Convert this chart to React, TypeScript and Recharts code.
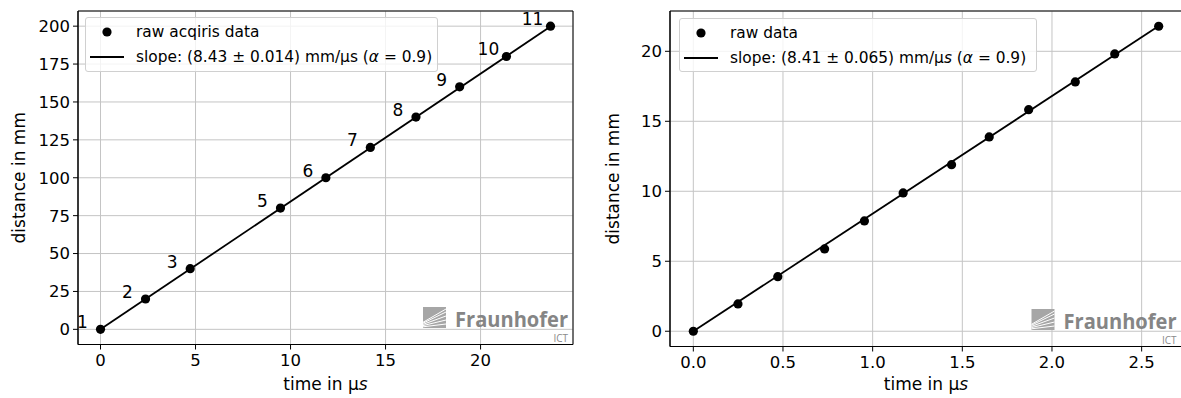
import React from 'react';
import {
  ScatterChart,
  Scatter,
  XAxis,
  YAxis,
  CartesianGrid,
  ReferenceArea,
  Legend,
} from 'recharts';

const FONT = '"DejaVu Sans", sans-serif';

// left panel: acqiris data, probes are numbered (no. 4 is missing)
const acqTime = [0, 2.37, 4.72, 9.47, 11.86, 14.2, 16.6, 18.9, 21.36, 23.68];
const acqDist = [0, 20, 40, 80, 100, 120, 140, 160, 180, 200];
const acqIds = ['1', '2', '3', '5', '6', '7', '8', '9', '10', '11'];
const acqFitTime = [0, 23.68];
const acqFitDist = [0, 199.7];
const acqXTicks = [0, 5, 10, 15, 20];
const acqYTicks = [0, 25, 50, 75, 100, 125, 150, 175, 200];

// right panel: raw data
const rawTime = [0, 0.249, 0.471, 0.732, 0.954, 1.17, 1.44, 1.65, 1.87, 2.13, 2.35, 2.595];
const rawDist = [0, 1.95, 3.9, 5.88, 7.88, 9.88, 11.9, 13.88, 15.83, 17.81, 19.81, 21.79];
const rawFitTime = [0, 2.595];
const rawFitDist = [0, 21.8];
const rawXTicks = [0, 0.5, 1, 1.5, 2, 2.5];
const rawYTicks = [0, 5, 10, 15, 20];

const acqPoints = acqTime.map((x, i) => ({ x, y: acqDist[i], id: acqIds[i] }));
const acqFit = acqFitTime.map((x, i) => ({ x, y: acqFitDist[i] }));
const rawPoints = rawTime.map((x, i) => ({ x, y: rawDist[i] }));
const rawFit = rawFitTime.map((x, i) => ({ x, y: rawFitDist[i] }));

const Dot = (p: any) => (
  <g>
    <circle cx={p.cx} cy={p.cy} r={4.6} fill="#000" />
    {p.payload && p.payload.id ? (
      <text
        x={p.cx - 18}
        y={p.cy - 7}
        textAnchor="middle"
        dominantBaseline="central"
        fontSize={17}
        fontFamily={FONT}
        fill="#000"
      >
        {p.payload.id}
      </text>
    ) : null}
  </g>
);

const NoDot = () => <g />;

function LegendBox({ label, slope, w, h, italicS }: any) {
  return (
    <div
      style={{
        width: w,
        height: h,
        boxSizing: 'border-box',
        border: '1px solid #d0d0d0',
        borderRadius: 3,
        background: 'rgba(255,255,255,0.8)',
      }}
    >
      <svg width={w - 2} height={h - 2} style={{ display: 'block' }}>
        <circle cx={21} cy={14} r={4.6} fill="#000" />
        <line x1={4} x2={38} y1={39} y2={39} stroke="#000" strokeWidth={1.8} />
        <text x={50} y={14} dominantBaseline="central" fontSize={15.4} fontFamily={FONT} fill="#000">
          {label}
        </text>
        <text x={50} y={39} dominantBaseline="central" fontSize={15.4} fontFamily={FONT} fill="#000">
          {`slope: (${slope}) mm/μ`}
          {italicS ? <tspan fontStyle="italic">s</tspan> : 's'}
          {' ('}
          <tspan fontStyle="italic">α</tspan>
          {' = 0.9)'}
        </text>
      </svg>
    </div>
  );
}

function Panel(props: any) {
  const {
    points, fit, xDomain, yDomain, xTicks, yTicks, xFmt, width, marginRight,
    yAxisWidth, xAxisHeight, yTitleX, legend,
  } = props;
  return (
    <ScatterChart
      width={width}
      height={398}
      margin={{ top: 11, right: marginRight, left: 0, bottom: 0 }}
    >
      <CartesianGrid stroke="#c4c4c4" strokeWidth={1} />
      <XAxis
        type="number"
        dataKey="x"
        domain={xDomain}
        allowDataOverflow
        ticks={xTicks}
        tickFormatter={xFmt}
        height={xAxisHeight}
        tickSize={5}
        tickMargin={5}
        axisLine={{ stroke: '#000' }}
        tickLine={{ stroke: '#000' }}
        tick={{ fill: '#000', fontSize: 16.5, fontFamily: FONT }}
        label={(lp: any) => {
          const vb = lp.viewBox;
          return (
            <text
              x={vb.x + vb.width / 2}
              y={vb.y + vb.height - 8}
              textAnchor="middle"
              fontSize={17}
              fontFamily={FONT}
              fill="#000"
            >
              time in μ<tspan fontStyle="italic">s</tspan>
            </text>
          );
        }}
      />
      <YAxis
        type="number"
        dataKey="y"
        domain={yDomain}
        allowDataOverflow
        ticks={yTicks}
        width={yAxisWidth}
        tickSize={5}
        tickMargin={3}
        axisLine={{ stroke: '#000' }}
        tickLine={{ stroke: '#000' }}
        tick={{ fill: '#000', fontSize: 16.5, fontFamily: FONT }}
        label={(lp: any) => {
          const vb = lp.viewBox;
          const cy = vb.y + vb.height / 2;
          return (
            <text
              x={yTitleX}
              y={cy}
              transform={`rotate(-90, ${yTitleX}, ${cy})`}
              textAnchor="middle"
              fontSize={17}
              fontFamily={FONT}
              fill="#000"
            >
              distance in mm
            </text>
          );
        }}
      />
      <ReferenceArea
        x1={xDomain[0]}
        x2={xDomain[1]}
        y1={yDomain[0]}
        y2={yDomain[1]}
        fill="none"
        stroke="#000"
        strokeOpacity={1}
        ifOverflow="visible"
      />
      <Legend
        layout="horizontal"
        verticalAlign="middle"
        align="center"
        wrapperStyle={{ left: legend.left, top: legend.top, width: legend.w, height: legend.h }}
        content={() => <LegendBox {...legend} />}
      />
      <Scatter
        data={fit}
        line={{ stroke: '#000', strokeWidth: 1.8 }}
        lineType="joint"
        shape={NoDot}
        isAnimationActive={false}
        legendType="none"
      />
      <Scatter data={points} shape={Dot} isAnimationActive={false} />
    </ScatterChart>
  );
}

function Logo({ x, y }: { x: number; y: number }) {
  // x: right edge of the word, y: baseline of the word
  const ix = x - 145;
  const iy = y - 20;
  return (
    <g fill="#858585">
      <rect x={ix} y={iy} width={23} height={21} fill="#a6a6a6" />
      {[4, 8, 12, 16, 19].map((k) => (
        <line
          key={k}
          x1={ix}
          y1={iy + 21 - k * 0.3}
          x2={ix + 23}
          y2={iy + 21 - k}
          stroke="#fff"
          strokeWidth={1}
        />
      ))}
      <text
        x={x}
        y={y}
        textAnchor="end"
        fontSize={21}
        fontWeight={700}
        fontFamily='"Open Sans", sans-serif'
        textLength={113}
        lengthAdjust="spacingAndGlyphs"
      >
        Fraunhofer
      </text>
      <text x={x} y={y + 15} textAnchor="end" fontSize={10} fontFamily='"Open Sans", sans-serif' fill="#8a8a8a">
        ICT
      </text>
    </g>
  );
}

export default function App() {
  return (
    <div
      style={{
        position: 'absolute',
        left: 0,
        top: 0,
        width: 1181,
        height: 398,
        overflow: 'hidden',
        background: '#fff',
      }}
    >
      <div style={{ position: 'absolute', left: 0, top: 0 }}>
        <Panel
          points={acqPoints}
          fit={acqFit}
          xDomain={[-1.184, 24.864]}
          yDomain={[-10, 210]}
          xTicks={acqXTicks}
          yTicks={acqYTicks}
          xFmt={(v: number) => String(v)}
          width={590}
          marginRight={17}
          yAxisWidth={78}
          xAxisHeight={53.5}
          yTitleX={25}
          legend={{ left: 85, top: 17, w: 353, h: 55, label: 'raw acqiris data', slope: '8.43 ± 0.014', italicS: false }}
        />
      </div>
      <div style={{ position: 'absolute', left: 600, top: 0 }}>
        <Panel
          points={rawPoints}
          fit={rawFit}
          xDomain={[-0.13, 2.725]}
          yDomain={[-1.09, 22.88]}
          xTicks={rawXTicks}
          yTicks={rawYTicks}
          xFmt={(v: number) => v.toFixed(1)}
          width={600}
          marginRight={18}
          yAxisWidth={70}
          xAxisHeight={51.5}
          yTitleX={19}
          legend={{ left: 79, top: 18, w: 358, h: 54, label: 'raw data', slope: '8.41 ± 0.065', italicS: true }}
        />
      </div>
      <svg
        width={1181}
        height={398}
        style={{ position: 'absolute', left: 0, top: 0, pointerEvents: 'none' }}
      >
        <Logo x={568} y={327} />
        <Logo x={1176.5} y={329} />
      </svg>
    </div>
  );
}
